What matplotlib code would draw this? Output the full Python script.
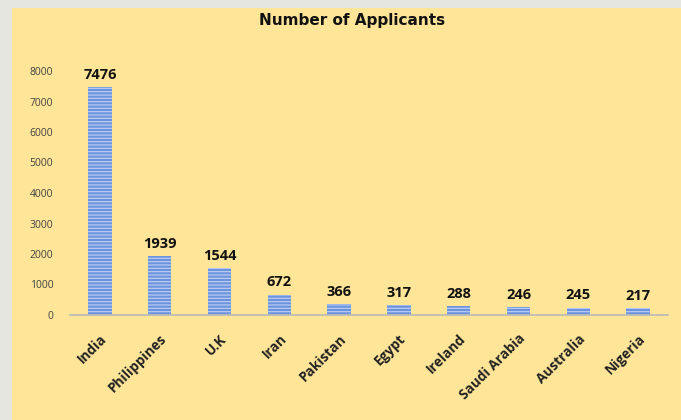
import matplotlib.pyplot as plt
from matplotlib.patches import Rectangle

countries = ['India', 'Philippines', 'U.K', 'Iran', 'Pakistan', 'Egypt',
             'Ireland', 'Saudi Arabia', 'Australia', 'Nigeria']
applicants = [7476, 1939, 1544, 672, 366, 317, 288, 246, 245, 217]
yticks = [0, 1000, 2000, 3000, 4000, 5000, 6000, 7000, 8000]

plt.rcParams['font.family'] = ['Open Sans', 'DejaVu Sans']
plt.rcParams['hatch.linewidth'] = 0.9

fig = plt.figure(figsize=(6.81, 4.2), dpi=100)
fig.patch.set_facecolor('#e6e6e1')
# yellow chart panel
fig.patches.append(Rectangle((12 / 681, 0), 1, 1 - 8 / 420, transform=fig.transFigure,
                             facecolor='#ffe598', edgecolor='none', zorder=-5))

ax = fig.add_axes([70 / 681, 1 - 315 / 420, 598 / 681, 244 / 420])
ax.set_facecolor('none')
ax.set_zorder(2)

x = range(len(countries))
bars = ax.bar(x, applicants, width=0.39, color='#6d93dc', edgecolor='#b7ccf3',
              linewidth=0, hatch='-----')

for xi, v in zip(x, applicants):
    ax.text(xi, v + 170, str(v), ha='center', va='bottom', fontsize=10.5,
            fontweight='bold', color='#111111', clip_on=False)

ax.set_xlim(-0.5, len(countries) - 0.5)
ax.set_ylim(0, 8000)
ax.set_yticks(yticks)
ax.set_yticklabels([str(t) for t in yticks], fontsize=7.5, color='#404040')
ax.set_xticks(list(x))
ax.set_xticklabels(countries, rotation=45, ha='right', rotation_mode='anchor',
                   fontsize=9.8, fontweight='bold', color='#222222')
ax.tick_params(axis='y', length=0, pad=12)
ax.tick_params(axis='x', length=0, pad=12)

for side in ['top', 'right', 'left']:
    ax.spines[side].set_visible(False)
ax.spines['bottom'].set_color('#b8b8b8')
ax.spines['bottom'].set_linewidth(1.2)

fig.text(352 / 681, 1 - 20 / 420, 'Number of Applicants', ha='center', va='center',
         fontsize=11, fontweight='bold', color='#111111', family='DejaVu Sans')

fig.savefig('out.png', dpi=100, facecolor=fig.get_facecolor())
